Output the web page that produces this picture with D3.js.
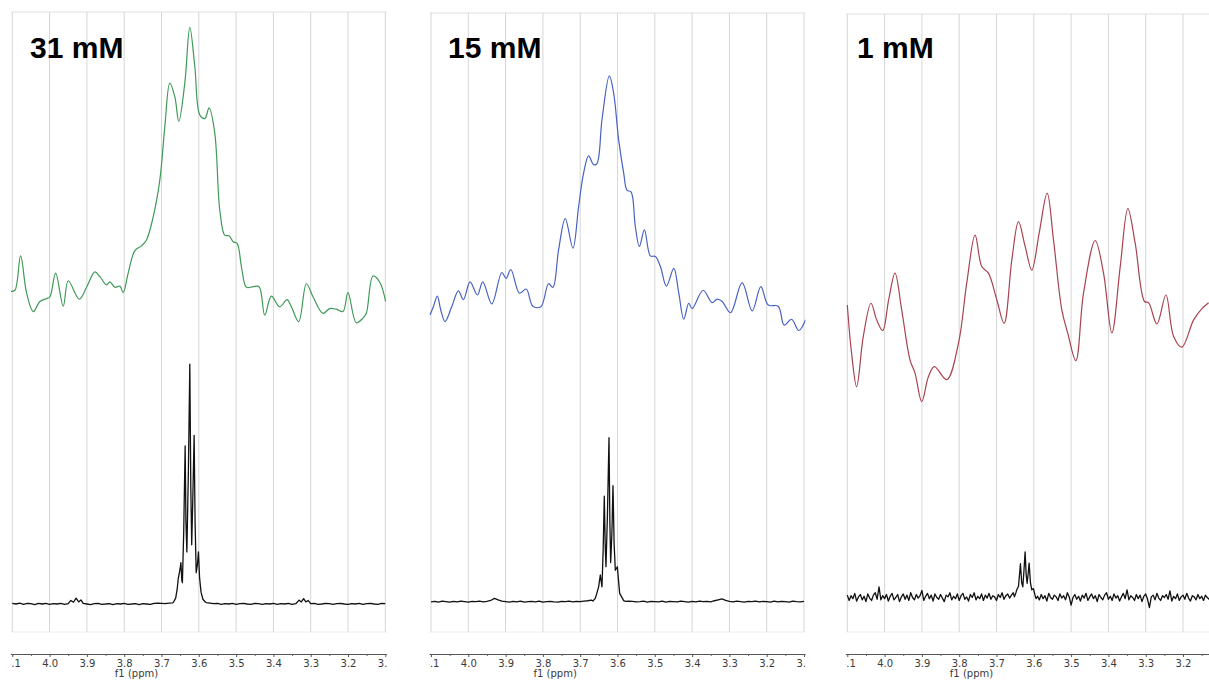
<!DOCTYPE html>
<html>
<head>
<meta charset="utf-8">
<script src="https://cdn.jsdelivr.net/npm/d3@7"></script>
<style>
  html, body { margin: 0; padding: 0; background: #ffffff; }
  svg { display: block; }
</style>
</head>
<body>
<svg id="chart" width="1209" height="690"></svg>
<script>
// ---- Data -------------------------------------------------------------
const concentrations = ["31 mM", "15 mM", "1 mM"];
const tickLabels = ["4.1", "4.0", "3.9", "3.8", "3.7", "3.6", "3.5", "3.4", "3.3", "3.2", "3.1"];
const minorTicks = [4.05, 3.95, 3.85, 3.75, 3.65, 3.55, 3.45, 3.35, 3.25, 3.15];
const axisTitle = "f1 (ppm)";

// Line-broadened spectra, [ppm, intensity]
const processed31 = [
  [4.1036,52.8],[4.0929,53.0],[4.0777,58.8],[4.0616,52.5],[4.0438,49.4],[4.0259,51.1],
  [4.008,51.6],[3.9991,51.9],[3.9839,55.9],[3.9634,50.3],[3.95,54.6],[3.9205,51.5],
  [3.9009,53.5],[3.8786,56.1],[3.8652,55.3],[3.8473,53.9],[3.8384,54.4],[3.825,53.5],
  [3.8116,53.7],[3.8027,52.6],[3.7893,55.9],[3.7714,59.7],[3.7536,60.5],[3.7402,61.5],
  [3.7223,65.4],[3.7045,71.6],[3.6911,80.6],[3.6777,88.0],[3.6643,85.7],[3.6536,81.5],
  [3.6375,88.0],[3.6241,97.4],[3.6107,90.8],[3.5973,82.6],[3.5839,82.0],[3.5723,83.8],
  [3.5571,79.5],[3.5438,66.6],[3.5304,62.3],[3.5188,62.2],[3.508,61.2],[3.4973,60.9],
  [3.4857,57.0],[3.4723,53.5],[3.4545,53.6],[3.4384,53.6],[3.4232,48.8],[3.4054,52.0],
  [3.383,50.2],[3.3634,51.4],[3.3518,50.2],[3.3321,47.7],[3.3116,54.1],[3.2938,51.9],
  [3.267,49.1],[3.2491,49.9],[3.2313,49.8],[3.2134,49.4],[3.2,52.6],[3.1777,47.5],
  [3.1598,48.3],[3.1509,49.1],[3.133,55.4],[3.1152,54.4],[3.0991,51.1]
];
const processed15 = [
  [4.1027,48.8],[4.0937,50.2],[4.083,52.0],[4.074,49.7],[4.0624,47.7],[4.0445,50.2],
  [4.0266,52.9],[4.0132,51.4],[3.9953,54.4],[3.9756,52.2],[3.9612,54.4],[3.9371,50.7],
  [3.9102,56.0],[3.8986,55.0],[3.886,56.5],[3.8628,52.5],[3.8448,53.2],[3.8269,50.3],
  [3.8055,50.2],[3.7849,54.1],[3.7732,53.5],[3.758,59.8],[3.7401,65.1],[3.7195,60.1],
  [3.7043,67.1],[3.6909,72.8],[3.6774,75.7],[3.664,74.2],[3.6551,74.4],[3.6416,81.8],
  [3.6219,89.2],[3.6103,86.3],[3.5969,78.4],[3.5834,72.8],[3.5745,69.9],[3.5637,69.6],
  [3.5521,63.7],[3.5414,60.4],[3.5279,63.2],[3.5118,58.8],[3.4984,58.7],[3.485,57.0],
  [3.4688,53.7],[3.4491,56.7],[3.4357,52.5],[3.4223,48.1],[3.4089,50.8],[3.3999,49.9],
  [3.3704,53.0],[3.3462,50.9],[3.3328,51.5],[3.3194,51.1],[3.297,49.2],[3.2659,54.3],
  [3.239,49.5],[3.2157,53.6],[3.196,50.5],[3.1692,50.3],[3.1531,47.1],[3.1334,48.1],
  [3.1137,46.2],[3.0958,48.0]
];
const processed1 = [
  [4.1,50.5],[4.0884,42.3],[4.075,36.7],[4.0571,45.2],[4.0365,50.8],[4.0213,48.0],
  [4.0052,46.2],[3.989,51.4],[3.9721,55.9],[3.9542,49.7],[3.9318,41.2],[3.9184,39.0],
  [3.9005,34.2],[3.8826,38.4],[3.8666,40.1],[3.8334,37.9],[3.8021,44.0],[3.7798,54.2],
  [3.7574,62.3],[3.7395,57.0],[3.7216,55.9],[3.6993,51.4],[3.6796,47.4],[3.659,58.1],
  [3.6411,64.6],[3.6232,60.4],[3.6054,56.4],[3.5857,62.6],[3.5642,69.4],[3.5472,61.5],
  [3.5249,49.7],[3.5088,45.7],[3.4873,41.1],[3.4667,52.5],[3.4354,61.4],[3.4131,55.9],
  [3.3907,45.8],[3.3683,57.0],[3.3478,66.8],[3.3281,60.9],[3.3031,51.1],[3.2923,50.9],
  [3.27,47.3],[3.2458,52.2],[3.2252,45.2],[3.2029,43.4],[3.1715,48.0],[3.1492,49.9],
  [3.1313,50.9]
];

// Raw spectra: baseline sampled on a regular ppm grid (null = covered by a signal list)
const rawGridStart = 4.10;
const rawStep31 = 0.01, rawStep15 = 0.01, rawStep1 = 0.005;

const rawBaseline31 = [
  0.1,0.0,0.15,-0.05,0.1,0.05,-0.1,0.1,0.0,0.12,
  -0.05,0.08,0.0,0.1,-0.08,0.05,null,null,null,0.1,
  0.0,-0.1,0.05,0.1,-0.05,0.0,0.08,-0.1,0.05,0.0,
  0.1,-0.05,0.0,0.08,-0.1,0.05,0.0,-0.08,0.1,0.15,
  0.1,0.05,0.15,0.2,null,null,null,null,null,null,
  null,null,0.25,0.15,0.05,0.1,-0.05,0.08,0.0,0.1,
  -0.05,0.05,0.12,0.0,-0.08,0.1,0.05,-0.05,0.08,0.0,
  0.1,-0.05,0.05,0.0,0.1,-0.08,0.05,null,null,null,
  0.05,0.1,-0.05,0.0,0.1,0.05,-0.08,0.05,0.1,0.0,
  -0.05,0.08,0.0,0.1,-0.05,0.05,0.12,0.0,-0.05,0.1,0.05
];
const rawSignals31 = [
  [[3.943,0.6],[3.936,0.3],[3.929,1.0],[3.922,0.35],[3.916,0.7]],
  [[3.668,0.3],[3.662,1.0],[3.658,2.5],[3.655,4.3],[3.65,6.0],[3.648,7.0],[3.6455,4.0],
   [3.644,3.6],[3.6405,12.0],[3.6366,26.7],[3.6345,14.0],[3.632,8.8],[3.628,22.0],
   [3.6241,40.5],[3.6215,20.0],[3.619,10.0],[3.616,18.0],[3.6125,28.5],[3.61,14.0],
   [3.607,5.3],[3.604,6.5],[3.6009,8.8],[3.598,4.5],[3.594,2.0],[3.589,0.8],[3.582,0.3]],
  [[3.331,0.65],[3.325,0.35],[3.319,0.9],[3.313,0.35],[3.307,0.6]]
];

const rawBaseline15 = [
  0.35,0.45,0.3,0.5,0.4,0.3,0.45,0.35,0.5,0.4,
  0.3,0.45,0.4,0.5,0.35,0.45,0.6,0.95,0.7,0.5,
  0.4,0.3,0.45,0.35,0.5,0.3,0.4,0.45,0.35,0.5,
  0.3,0.4,0.45,0.35,0.3,0.45,0.4,0.5,0.35,0.45,
  0.4,0.5,0.55,0.65,null,null,null,null,null,null,
  null,null,0.7,0.5,0.45,0.35,0.4,0.5,0.3,0.45,
  0.4,0.35,0.5,0.3,0.45,0.4,0.35,0.5,0.4,0.3,
  0.45,0.35,0.5,0.4,0.45,0.35,0.55,0.7,0.85,0.6,
  0.45,0.35,0.5,0.4,0.3,0.45,0.4,0.5,0.35,0.45,
  0.4,0.3,0.5,0.35,0.45,0.4,0.3,0.5,0.4,0.35,0.45
];
const rawSignals15 = [
  [[3.666,0.5],[3.66,0.9],[3.6568,1.5],[3.6506,2.9],[3.6461,4.9],[3.6416,2.9],[3.6385,9.0],
   [3.6354,18.2],[3.633,10.0],[3.6309,6.3],[3.627,15.0],[3.6228,28.1],[3.6205,14.0],
   [3.6183,7.0],[3.615,12.0],[3.6121,20.0],[3.609,10.0],[3.6058,5.7],[3.6004,6.3],
   [3.5942,1.8],[3.5834,0.56],[3.578,0.45]]
];

const rawBaseline1 = [
  1.5,0.6,1.4,0.9,1.8,0.5,1.2,1.6,0.7,1.3,
  0.4,1.7,1.0,0.6,1.5,1.9,0.8,2.9,0.7,1.4,
  0.9,1.6,0.5,1.3,1.8,0.7,1.1,1.6,0.4,1.2,
  1.7,0.8,1.5,0.6,1.9,1.1,0.7,1.6,1.0,1.4,
  2.3,0.6,1.3,1.8,0.9,1.5,0.5,1.7,1.1,0.8,
  1.6,1.0,0.4,1.5,1.2,1.9,0.7,1.3,0.9,1.7,
  0.6,1.4,1.8,0.8,1.2,0.5,1.6,1.1,1.9,0.7,
  1.3,0.9,1.7,0.6,1.5,1.0,1.8,0.8,1.4,1.2,
  0.6,1.6,1.1,1.9,0.8,1.4,1.7,1.0,1.5,1.9,
  null,null,null,null,null,null,null,null,null,null,
  null,null,1.3,0.7,1.6,0.9,1.4,0.5,1.8,1.1,
  0.8,1.5,1.2,0.6,1.7,1.0,1.4,0.7,1.9,1.2,
  -0.2,1.1,1.6,0.8,1.3,0.5,1.5,1.0,1.8,0.6,
  1.2,1.7,0.9,1.4,0.4,1.6,1.1,0.7,1.5,1.9,
  0.8,1.3,0.6,1.7,1.0,1.4,0.5,1.2,1.8,0.9,
  2.4,0.7,1.4,1.1,0.6,1.6,0.9,1.5,0.4,1.3,
  1.7,0.8,-0.6,1.2,1.5,0.7,1.8,1.0,0.6,1.4,
  1.1,1.6,0.8,2.2,0.5,1.3,0.9,1.7,0.6,1.2,
  1.5,0.8,1.8,1.0,0.5,1.4,1.2,0.7,1.6,0.9,
  1.3,0.6,1.5,1.1,0.8,1.7,0.9,1.2,0.5,1.4,1.0
];
const rawSignals1 = [
  [[3.652,1.2],[3.6475,2.0],[3.6456,2.4],[3.641,3.0],[3.6358,6.8],[3.6325,3.6],[3.6295,2.9],
   [3.6265,5.5],[3.6233,8.8],[3.6205,5.0],[3.6179,3.5],[3.615,5.2],[3.6125,6.9],
   [3.609,3.6],[3.6054,2.4],[3.601,2.6],[3.5964,1.4],[3.594,0.9]]
];

// ---- Layout -----------------------------------------------------------
const W = 1209, H = 690;
const panelLeft = [12.3, 431, 847.3];
const panelWidth = 373;
const panelTop = [12, 13, 14];
const frameBottom = 632;
const axisY = 654;
const labelX = [30, 448, 857];
const labelY = 58;
const traceColors = ["#3f9a58", "#4862c2", "#a8434f"];
const axisFont = "'DejaVu Sans', Verdana, sans-serif";

function buildRaw(baseline, step, signals) {
  const ranges = signals.map(s => d3.extent(s, d => d[0]));
  const pts = [];
  baseline.forEach((v, i) => {
    if (v === null) return;
    const p = rawGridStart - i * step;
    if (ranges.some(r => p >= r[0] - 1e-9 && p <= r[1] + 1e-9)) return;
    pts.push([p, v]);
  });
  signals.forEach(s => pts.push(...s));
  pts.sort((a, b) => b[0] - a[0]);
  return pts;
}

const panels = [
  { label: concentrations[0], processed: processed31, raw: buildRaw(rawBaseline31, rawStep31, rawSignals31) },
  { label: concentrations[1], processed: processed15, raw: buildRaw(rawBaseline15, rawStep15, rawSignals15) },
  { label: concentrations[2], processed: processed1,  raw: buildRaw(rawBaseline1,  rawStep1,  rawSignals1) }
];

const svg = d3.select("#chart");
svg.append("rect").attr("width", W).attr("height", H).attr("fill", "#ffffff");

const y = d3.scaleLinear().domain([0, 100]).range([604, 12]);
const majorValues = tickLabels.map(Number);

panels.forEach((p, i) => {
  const left = panelLeft[i];
  const x = d3.scaleLinear().domain([4.1, 3.1]).range([0, panelWidth]);
  const visW = Math.min(panelWidth, W - left);
  const g = svg.append("g").attr("transform", `translate(${left},0)`);

  const clipId = "clip" + i;
  g.append("clipPath").attr("id", clipId)
    .append("rect").attr("x", -1.5).attr("y", 0).attr("width", visW + 3).attr("height", H);

  const body = g.append("g").attr("clip-path", `url(#${clipId})`);

  // frame lines
  body.append("line")
    .attr("x1", -2).attr("x2", visW + 2)
    .attr("y1", panelTop[i]).attr("y2", panelTop[i])
    .attr("stroke", "#e0e0e0").attr("stroke-width", 1);
  body.append("line")
    .attr("x1", -2).attr("x2", visW + 2)
    .attr("y1", frameBottom).attr("y2", frameBottom)
    .attr("stroke", "#ececec").attr("stroke-width", 1);

  // vertical grid
  body.selectAll("line.grid").data(majorValues).join("line")
    .attr("class", "grid")
    .attr("x1", d => x(d)).attr("x2", d => x(d))
    .attr("y1", panelTop[i]).attr("y2", frameBottom)
    .attr("stroke", "#d6d6d6").attr("stroke-width", 1);

  // raw spectrum
  body.append("path")
    .datum(p.raw)
    .attr("fill", "none")
    .attr("stroke", "#111111")
    .attr("stroke-width", 1.3)
    .attr("stroke-linejoin", "round")
    .attr("d", d3.line().x(d => x(d[0])).y(d => y(d[1])));

  // broadened spectrum
  body.append("path")
    .datum(p.processed)
    .attr("fill", "none")
    .attr("stroke", traceColors[i])
    .attr("stroke-width", 1.2)
    .attr("d", d3.line().curve(d3.curveCatmullRom.alpha(0.5)).x(d => x(d[0])).y(d => y(d[1])));

  // axis: only ticks whose position falls inside the visible strip get a label
  const shown = majorValues.filter(v => x(v) <= visW + 1);
  const axisG = body.append("g").attr("transform", `translate(0,${axisY})`);
  axisG.call(d3.axisBottom(x).tickValues(shown).tickSize(3).tickSizeOuter(0)
      .tickFormat(d => tickLabels[majorValues.indexOf(d)]))
    .call(a => a.select(".domain").attr("stroke", "#555").attr("d", `M-2,0.5H${visW + 2}`))
    .call(a => a.selectAll(".tick line").attr("stroke", "#555"))
    .call(a => a.selectAll(".tick text")
      .attr("y", 12.5).attr("dy", 0)
      .attr("fill", "#3a3a3a")
      .style("font-family", axisFont)
      .style("font-size", "10px"));
  axisG.selectAll("line.minor").data(minorTicks).join("line")
    .attr("class", "minor")
    .attr("x1", d => x(d) + 0.5).attr("x2", d => x(d) + 0.5)
    .attr("y1", 0).attr("y2", 2)
    .attr("stroke", "#666");

  body.append("text")
    .attr("x", x(3.767)).attr("y", 677)
    .attr("text-anchor", "middle")
    .attr("fill", "#3a3a3a")
    .style("font-family", axisFont)
    .style("font-size", "10px")
    .text(axisTitle);

  svg.append("text")
    .attr("x", labelX[i]).attr("y", labelY)
    .attr("fill", "#000")
    .style("font-family", "'Liberation Sans', Arial, sans-serif")
    .style("font-weight", "bold")
    .style("font-size", "30px")
    .text(p.label);
});
</script>
</body>
</html>
